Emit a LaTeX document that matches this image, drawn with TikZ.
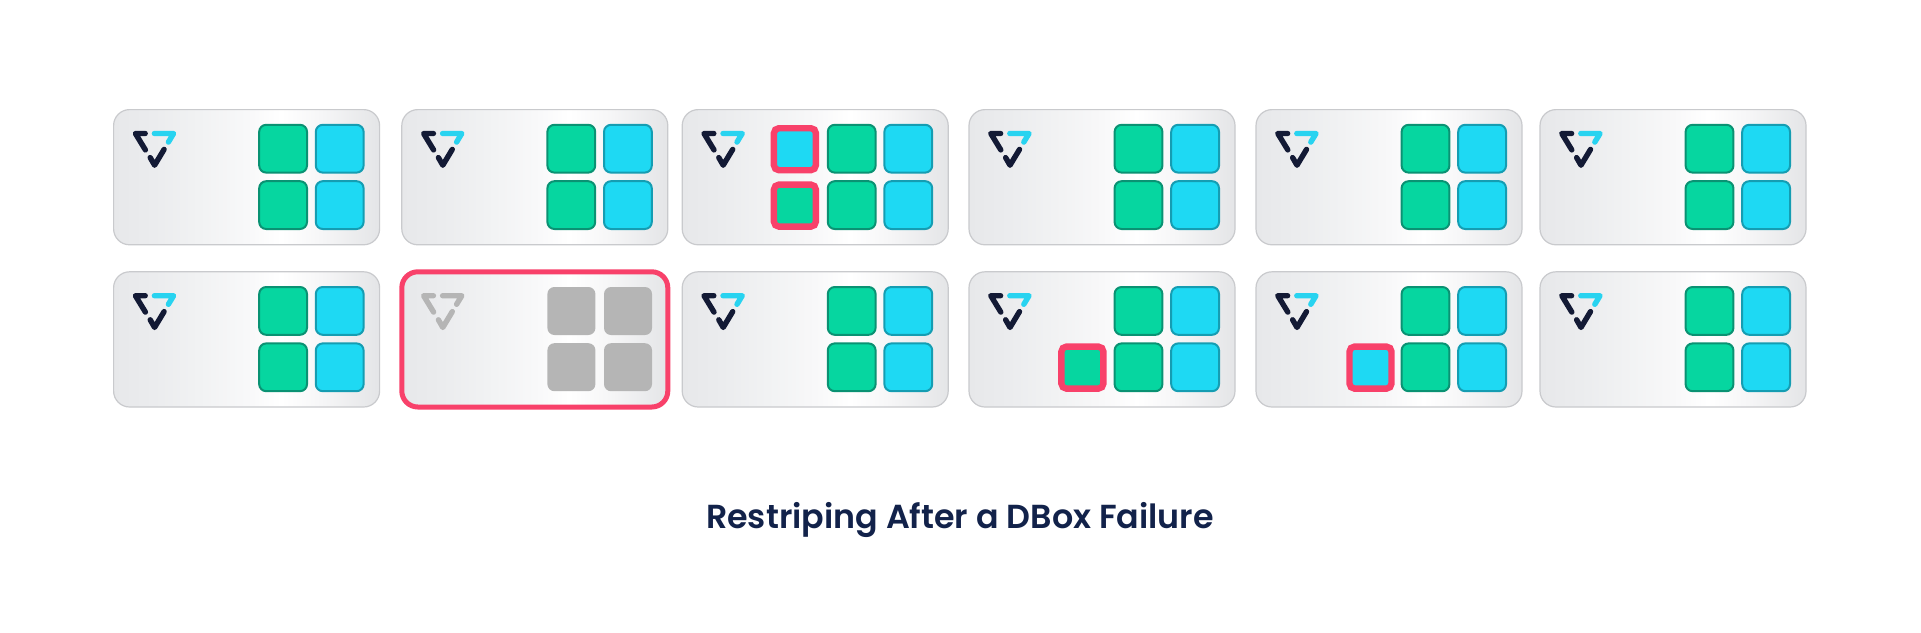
\documentclass[tikz,border=0pt]{standalone}
\usepackage{fontspec}
\setmainfont{Poppins}[BoldFont={Poppins SemiBold}]
\usetikzlibrary{calc}
\definecolor{cgreen}{HTML}{06D6A0}
\definecolor{cgreenl}{HTML}{0A9273}
\definecolor{cblue}{HTML}{1ED9F3}
\definecolor{cbluel}{HTML}{159DB2}
\definecolor{cgray}{HTML}{B5B5B5}
\definecolor{cred}{HTML}{F8416A}
\definecolor{cdark}{HTML}{131A35}
\definecolor{ccyan}{HTML}{28D3F0}
\definecolor{cedge}{HTML}{C9CACD}
\definecolor{ctitle}{HTML}{12224A}
\definecolor{sA}{HTML}{E7E8EA}
\definecolor{sB}{HTML}{EBECEE}
\definecolor{sC}{HTML}{F1F2F3}
\definecolor{sD}{HTML}{F8F8F9}
\definecolor{sE}{HTML}{FFFFFF}
\definecolor{sF}{HTML}{F6F6F7}
\definecolor{sG}{HTML}{E4E5E7}
\pgfdeclarehorizontalshading{cardgrad}{100bp}{
  color(0bp)=(sA);
  color(25bp)=(sA);
  color(32.5bp)=(sB);
  color(41bp)=(sC);
  color(50bp)=(sD);
  color(56.5bp)=(sE);
  color(64bp)=(sF);
  color(75bp)=(sG);
  color(100bp)=(sG)}
\tikzset{
  x=1pt,y=-1pt,
  cardbox/.style={shade,shading=cardgrad,draw=cedge,line width=1.2pt,rounded corners=16pt,
    minimum width=266pt,minimum height=135.2pt,inner sep=0pt,outer sep=0pt,anchor=north west},
  failedcard/.style={cardbox,draw=cred,line width=5pt},
  sq/.style={line width=2pt,rounded corners=7pt,minimum width=47.8pt,minimum height=47.8pt,
    inner sep=0pt,outer sep=0pt,anchor=north west},
  gsq/.style={sq,fill=cgreen,draw=cgreenl},
  bsq/.style={sq,fill=cblue,draw=cbluel},
  dsq/.style={sq,fill=cgray,draw=none,minimum width=48pt,minimum height=48pt},
  rsq/.style={sq,draw=cred,line width=6.4pt,rounded corners=5pt,minimum width=42pt,minimum height=42pt},
  logoline/.style={line width=5.4pt,line cap=round,line join=round},
}
\newcommand{\logomark}[4]{%
  \begin{scope}[shift={(#1,#2)}]
    \draw[logoline,#3] (31.6,23.9) -- (21.8,23.9) -- (31.8,40.3);
    \draw[logoline,#3] (36.6,48) -- (41,55.6) -- (50.5,39.8);
    \draw[logoline,#4] (40.8,23.9) -- (60,23.9) -- (54.8,32.5);
  \end{scope}}
\newcommand{\normalcard}[3]{%
  \node[cardbox] (#1) at (#2,#3) {};
  \logomark{#2}{#3}{cdark}{ccyan}
  \node[gsq] (#1a) at ($(#2,#3)+(145.6,15.2)$) {};
  \node[bsq] (#1b) at ($(#2,#3)+(202.2,15.2)$) {};
  \node[gsq] (#1c) at ($(#2,#3)+(145.6,71.6)$) {};
  \node[bsq] (#1d) at ($(#2,#3)+(202.2,71.6)$) {};
}
\begin{document}
\begin{tikzpicture}
\useasboundingbox (0,0) rectangle (1921,632);
\fill[white] (0,0) rectangle (1921,632);
% top row
\normalcard{A}{113.6}{109.6}
\normalcard{B}{401.8}{109.6}
\normalcard{C}{682.2}{109.6}
\normalcard{D}{969}{109.6}
\normalcard{E}{1256}{109.6}
\normalcard{F}{1540}{109.6}
% extra blocks of the third top card
\node[rsq,fill=cblue] (Cx) at ($(682.2,109.6)+(91.7,18.6)$) {};
\node[rsq,fill=cgreen] (Cy) at ($(682.2,109.6)+(91.7,75)$) {};
% bottom row
\normalcard{G}{113.6}{271.8}
\node[failedcard] (H) at (401.8,271.8) {};
\logomark{401.8}{271.8}{cgray}{cgray}
\node[dsq] (Ha) at (547.4,287) {};
\node[dsq] (Hb) at (604,287) {};
\node[dsq] (Hc) at (547.4,343.2) {};
\node[dsq] (Hd) at (604,343.2) {};
\normalcard{I}{682.2}{271.8}
\normalcard{J}{969}{271.8}
\normalcard{K}{1256}{271.8}
\normalcard{L}{1540}{271.8}
\node[rsq,fill=cgreen] (Jx) at ($(969,271.8)+(92.4,74.8)$) {};
\node[rsq,fill=cblue] (Kx) at ($(1256,271.8)+(93.5,74.8)$) {};
\node[text=ctitle,font=\fontsize{33.3}{40}\selectfont\bfseries,inner sep=0pt] (title) at (960,520) {Restriping After a DBox Failure};
\end{tikzpicture}
\end{document}
